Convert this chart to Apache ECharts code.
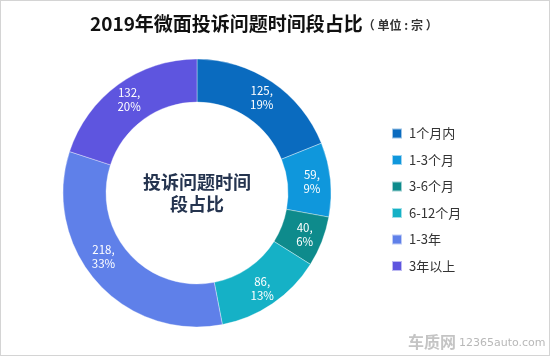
<!DOCTYPE html>
<html><head><meta charset="utf-8">
<script src="https://cdn.jsdelivr.net/npm/echarts@6/dist/echarts.min.js"></script>
<style>html,body{margin:0;padding:0;background:#fff;}#c{width:550px;height:356px;box-sizing:border-box;border:1px solid #d4d4d4;}</style>
</head><body><div id="c"></div>
<script>
const categories = ['1个月内','1-3个月','3-6个月','6-12个月','1-3年','3年以上'];
const values = [125, 59, 40, 86, 218, 132];
const colors = ['#0a6bbf','#0f97dc','#0e8b8c','#15b1c6','#5f80e9','#5e55df'];
const titleText = '2019年微面投诉问题时间段占比';
const unitText = '（ 单位 : 宗 ）';
const centerText = '投诉问题时间\n段占比';

const chart = echarts.init(document.getElementById('c'), null, {renderer:'canvas'});
const total = values.reduce((a,b)=>a+b,0);
const labelShift = {4:[-7,-13]};
chart.setOption({
  animation:false,
  color: colors,
  title:{
    text:'{a|'+titleText+'}{b|'+unitText+'}',
    left:84, top:8,
    textStyle:{rich:{
      a:{fontSize:19,fontWeight:'bold',color:'#111',fontFamily:'Noto Sans CJK SC'},
      b:{fontSize:12,color:'#333',fontFamily:'Noto Sans CJK SC',padding:[4,0,0,0]}
    }}
  },
  legend:{
    orient:'vertical', left:385, top:121,
    itemWidth:10, itemHeight:10, itemGap:13.5,
    icon:'rect',
    textStyle:{fontSize:13,color:'#333',fontFamily:'Noto Sans CJK SC',padding:[0,0,0,2]},
    data: categories
  },
  graphic:[
    {type:'text', x:196, y:192, style:{text:centerText, fill:'#25344f', font:'bold 18px "Noto Sans CJK SC"', textAlign:'center', textVerticalAlign:'middle', lineHeight:22}},
    {type:'text', x:455, y:341, style:{text:'车质网', fill:'#c4c4c4', font:'bold 16px "Noto Sans CJK SC"', textAlign:'right', textVerticalAlign:'middle'}},
    {type:'text', x:458, y:342, style:{text:'12365auto.com', fill:'#b8b8b8', font:'11px "DejaVu Sans"', textAlign:'left', textVerticalAlign:'middle'}}
  ],
  series:[{
    type:'pie',
    center:[196,192],
    radius:[91,134],
    startAngle:90,
    clockwise:true,
    avoidLabelOverlap:false,
    itemStyle:{borderColor:'rgba(255,255,255,0.6)',borderWidth:0.6},
    label:{
      show:true, position:'inside', color:'#fff', fontSize:11.5, lineHeight:14,
      fontFamily:'Noto Sans CJK SC',
      formatter:p=>p.value+',\n'+Math.round(p.value/total*100)+'%'
    },
    labelLine:{show:false},
    data: categories.map((n,i)=>{
      const d = {name:n,value:values[i]};
      if (labelShift[i]) d.label = {offset: labelShift[i]};
      return d;
    })
  }]
});
</script></body></html>
